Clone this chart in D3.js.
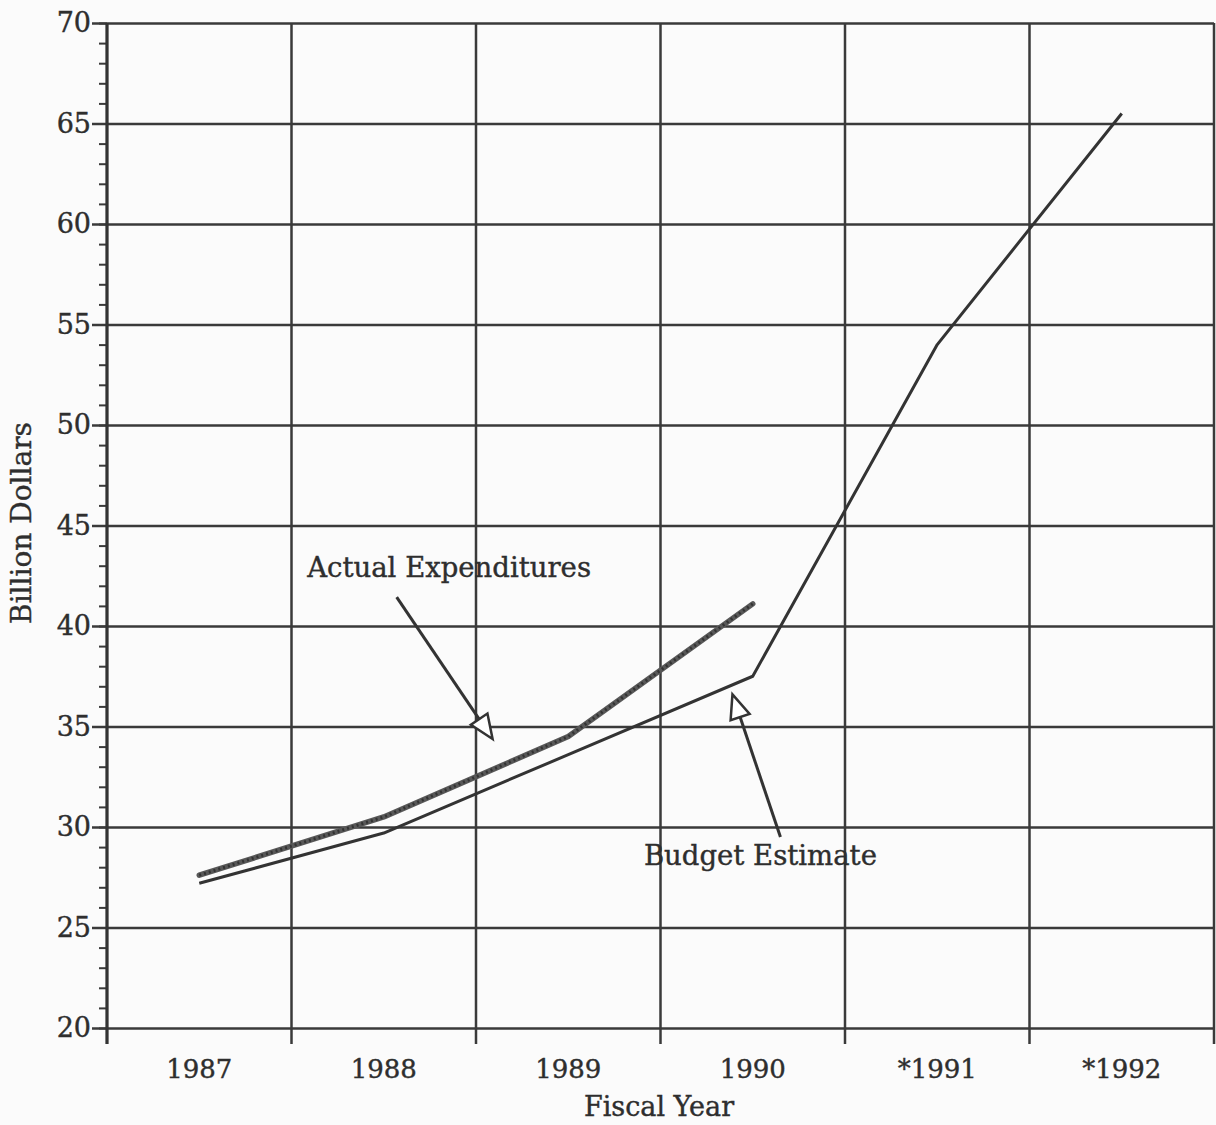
<!DOCTYPE html>
<meta charset="utf-8">
<style>
body { margin: 0; background: #fbfbfb; }
text { font-family: "DejaVu Serif", serif; fill: #2e2e2e; stroke: #2e2e2e; stroke-width: 0.4px; }
.grid line { stroke: #3a3a3a; stroke-width: 2.5px; }
.grid path { display: none; }
</style>
<body>
<script src="https://d3js.org/d3.v7.min.js"></script>
<script>

    // chart values
    var years = ["1987", "1988", "1989", "1990", "*1991", "*1992"];
    var actual = [27.6, 30.5, 34.5, 41.1];             // Actual Expenditures
    var budget = [27.2, 29.7, 33.6, 37.5, 54.0, 65.5]; // Budget Estimate
    var yTicks = [20, 25, 30, 35, 40, 45, 50, 55, 60, 65, 70];

    var W = 1216, H = 1125;
    var m = {left: 107, right: 1214, top: 23, bottom: 1028};

    var svg = d3.select("body").append("svg")
        .attr("width", W)
        .attr("height", H);

    var x = d3.scaleBand().domain(years).range([m.left, m.right]).padding(0);
    var y = d3.scaleLinear().domain([20, 70]).range([m.bottom, m.top]);

    // position by fractional year index (used for lines and callouts)
    var xi = d3.scaleLinear().domain([0, 1])
        .range([x(years[0]) + x.bandwidth() / 2, x(years[1]) + x.bandwidth() / 2]);

    // horizontal grid
    svg.append("g")
        .attr("class", "grid")
        .attr("transform", "translate(" + m.left + ",0)")
        .call(d3.axisLeft(y).tickValues(yTicks).tickSize(-(m.right - m.left)).tickFormat(""));

    // minor y ticks
    svg.append("g")
        .attr("class", "grid")
        .attr("transform", "translate(" + m.left + ",0)")
        .call(d3.axisLeft(y).ticks(50).tickSize(8).tickFormat(""))
        .selectAll("line").style("stroke-width", "2px");

    // major y ticks + labels
    svg.append("g")
        .attr("class", "grid")
        .attr("transform", "translate(" + m.left + ",0)")
        .call(d3.axisLeft(y).tickValues(yTicks).tickSize(15).tickPadding(1)
            .tickFormat(d3.format("d")))
        .call(function (g) {
            g.selectAll("text").style("font-size", "27px").style("font-family", "DejaVu Serif");
        });

    // vertical grid at band edges
    var edges = years.map(function (d) { return x(d); }).concat([m.right]);
    svg.append("g")
        .attr("class", "grid")
        .selectAll("line")
        .data(edges)
        .enter().append("line")
        .attr("x1", function (d) { return d; })
        .attr("x2", function (d) { return d; })
        .attr("y1", m.top)
        .attr("y2", m.bottom + 16);

    // frame line on the left
    svg.append("line")
        .attr("x1", m.left).attr("x2", m.left)
        .attr("y1", m.top).attr("y2", m.bottom + 16)
        .style("stroke", "#333").style("stroke-width", "3px");

    // x labels
    svg.append("g")
        .selectAll("text")
        .data(years)
        .enter().append("text")
        .attr("x", function (d) { return x(d) + x.bandwidth() / 2; })
        .attr("y", 1078)
        .attr("text-anchor", "middle")
        .style("font-size", "26px")
        .text(function (d) { return d; });

    // axis titles
    svg.append("text")
        .attr("x", 659)
        .attr("y", 1116)
        .attr("text-anchor", "middle")
        .style("font-size", "27px")
        .text("Fiscal Year");

    svg.append("text")
        .attr("transform", "translate(31,523) rotate(-90)")
        .attr("text-anchor", "middle")
        .style("font-size", "28px")
        .text("Billion Dollars");

    // lines
    var line = d3.line()
        .x(function (d, i) { return xi(i); })
        .y(function (d) { return y(d); });

    svg.append("path")
        .datum(budget)
        .attr("d", line)
        .attr("fill", "none")
        .style("stroke", "#333")
        .style("stroke-width", "3px")
        .style("stroke-linejoin", "round");

    svg.append("path")
        .datum(actual)
        .attr("d", line)
        .attr("fill", "none")
        .style("stroke", "#585858")
        .style("stroke-width", "5.5px")
        .style("stroke-linecap", "round")
        .style("stroke-linejoin", "round");

    svg.append("path")
        .datum(actual)
        .attr("d", line)
        .attr("fill", "none")
        .style("stroke", "#333")
        .style("stroke-width", "3px")
        .style("stroke-dasharray", "2,3");

    // callouts: text + hollow arrow
    var callouts = [
        {label: "Actual Expenditures", tx: 0.585, ty: 42.44, from: [1.07, 41.44], to: [1.59, 34.38]},
        {label: "Budget Estimate", tx: 2.41, ty: 28.1, from: [3.15, 29.5], to: [2.89, 36.6]}
    ];

    callouts.forEach(function (c) {
        svg.append("text")
            .attr("x", xi(c.tx))
            .attr("y", y(c.ty))
            .style("font-size", "27.5px")
            .text(c.label);

        var x1 = xi(c.from[0]), y1 = y(c.from[1]);
        var x2 = xi(c.to[0]), y2 = y(c.to[1]);
        var dx = x2 - x1, dy = y2 - y1, len = Math.sqrt(dx * dx + dy * dy);
        var ux = dx / len, uy = dy / len;
        var headLen = 24, headW = 10;
        var bx = x2 - ux * headLen, by = y2 - uy * headLen;

        svg.append("line")
            .attr("x1", x1).attr("y1", y1)
            .attr("x2", bx).attr("y2", by)
            .style("stroke", "#333").style("stroke-width", "3px");

        svg.append("path")
            .attr("d", "M" + x2 + "," + y2 +
                "L" + (bx - uy * headW) + "," + (by + ux * headW) +
                "L" + (bx + uy * headW) + "," + (by - ux * headW) + "Z")
            .style("fill", "#fff")
            .style("stroke", "#333")
            .style("stroke-width", "2.5px")
            .style("stroke-linejoin", "miter");
    });

</script>
</body>
